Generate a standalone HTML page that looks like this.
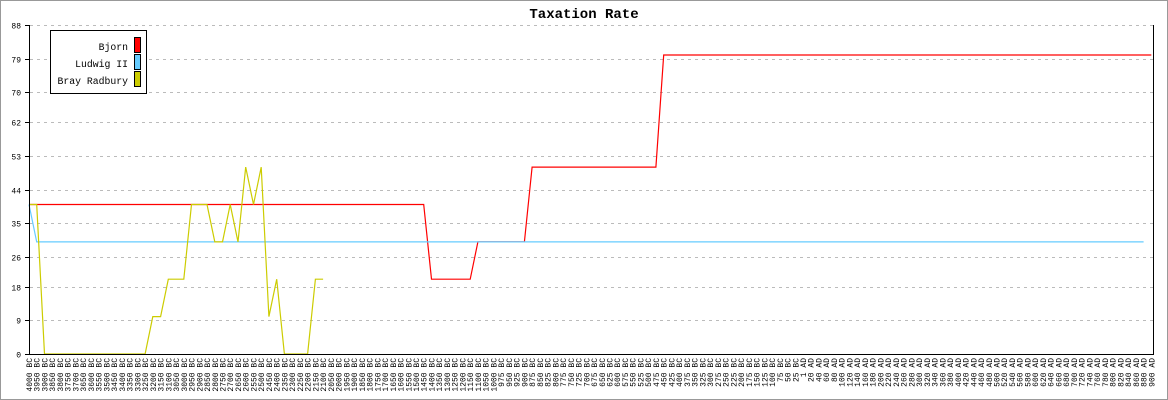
<!DOCTYPE html>
<html><head><meta charset="utf-8"><style>
html,body{margin:0;padding:0;background:#fff;}
svg{display:block;}
text{font-family:"Liberation Mono","DejaVu Sans Mono",monospace;}
</style></head><body>
<svg id="c" width="1168" height="400" xmlns="http://www.w3.org/2000/svg">
<rect x="0.5" y="0.5" width="1167" height="399" fill="#fff" stroke="#999"/>
<text x="584" y="18" text-anchor="middle" font-size="14" font-weight="bold">Taxation Rate</text>
<g id="grid"></g>
<g id="lines"></g>
<line x1="29.5" y1="25" x2="29.5" y2="355" stroke="#000"/>
<line x1="29" y1="354.5" x2="1154" y2="354.5" stroke="#000"/>
<line x1="1153.5" y1="25" x2="1153.5" y2="355" stroke="#000"/>
<g id="xl"></g>
<rect x="50.5" y="30.5" width="96" height="63" fill="#fff" stroke="#000"/>
<text x="128" y="50" text-anchor="end" font-size="9.8">Bjorn</text>
<text x="128" y="67" text-anchor="end" font-size="9.8">Ludwig II</text>
<text x="128" y="84" text-anchor="end" font-size="9.8">Bray Radbury</text>
<rect x="134.5" y="37.5" width="6" height="15" fill="#f00" stroke="#000"/>
<rect x="134.5" y="54.5" width="6" height="15" fill="#6cf" stroke="#000"/>
<rect x="134.5" y="71.5" width="6" height="15" fill="#cc0" stroke="#000"/>
</svg>
<script>
const NS="http://www.w3.org/2000/svg";
function el(t,a,p,txt){const e=document.createElementNS(NS,t);for(const k in a)e.setAttribute(k,a[k]);if(txt!==undefined)e.textContent=txt;p.appendChild(e);return e;}
const Y=v=>354-v*3.738;
const g=document.getElementById('grid');
[0,9,18,26,35,44,53,62,70,79,88].forEach(v=>{
 const y=Math.round(Y(v))+0.5;
 if(v>0) el('line',{x1:30,y1:y,x2:1153,y2:y,stroke:'#bbb','stroke-dasharray':'3,4'},g);
 el('line',{x1:25,y1:y,x2:30,y2:y,stroke:'#000'},g);
 el('text',{x:21,y:y+3,'text-anchor':'end','font-size':8},g,String(v));
});
const labels=[];
for(let v=4000;v>=1000;v-=50)labels.push(v+' BC');
for(let v=975;v>=25;v-=25)labels.push(v+' BC');
labels.push('1 AD');
for(let v=20;v<=900;v+=20)labels.push(v+' AD');
const X=i=>29+i*7.74;
const xl=document.getElementById('xl');
labels.forEach((s,i)=>{
 const x=X(i)+3;
 el('text',{x:0,y:0,transform:`translate(${x},358) rotate(-90)`,'text-anchor':'end','font-size':8},xl,s);
});
const red=[],blue=[],yel=[];
for(let i=0;i<=145;i++){let v;
 if(i<=51)v=40;else if(i<=57)v=20;else if(i<=64)v=30;else if(i<=81)v=50;else v=80;red.push([X(i),Y(v)]);}
blue.push([X(0),Y(40)]);for(let i=1;i<=144;i++)blue.push([X(i),Y(30)]);
const yv=[40,40,0,0,0,0,0,0,0,0,0,0,0,0,0,0,10,10,20,20,20,40,40,40,30,30,40,30,50,40,50,10,20,0,0,0,0,20,20];
yv.forEach((v,i)=>yel.push([X(i),Y(v)]));
const L=document.getElementById('lines');
[[red,'#f00'],[blue,'#6cf'],[yel,'#cc0']].forEach(([p,c])=>{
 el('polyline',{points:p.map(q=>q[0].toFixed(1)+','+q[1].toFixed(1)).join(' '),fill:'none',stroke:c,'stroke-width':1.2},L);
});
</script>
</body></html>
